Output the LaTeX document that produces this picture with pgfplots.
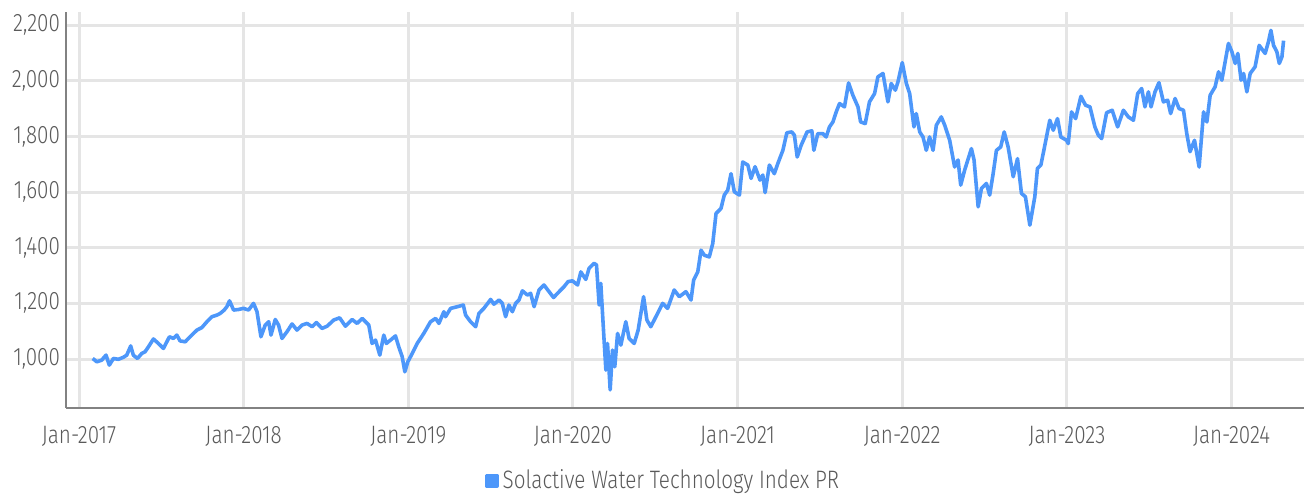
\documentclass[border=0pt]{standalone}
\usepackage{fontspec}
\setmainfont{Fira Sans Light}[FakeStretch=0.82]
\usepackage{pgfplots}
\pgfplotsset{compat=1.18}
\definecolor{lineblue}{RGB}{77,151,250}
\definecolor{txtgray}{RGB}{90,90,90}
\definecolor{gridgray}{RGB}{229,229,229}
\definecolor{axgray}{RGB}{130,130,130}
\begin{document}
\begin{tikzpicture}
\useasboundingbox (-33pt,-44pt) rectangle (619pt,204pt);
\begin{axis}[
  scale only axis, width=619pt, height=198pt,
  xmin=2016.921, xmax=2024.44, ymin=824, ymax=2247,
  axis x line*=bottom, axis y line*=left,
  axis line style={axgray, line width=1pt, -},
  xtick={2017,2018,2019,2020,2021,2022,2023,2024},
  xticklabels={Jan-2017,Jan-2018,Jan-2019,Jan-2020,Jan-2021,Jan-2022,Jan-2023,Jan-2024},
  ytick={1000,1200,1400,1600,1800,2000,2200},
  major tick length=0pt,
  grid=major, major grid style={gridgray, line width=1.5pt},
  tick label style={font=\fontsize{12.6}{14}\selectfont, text=txtgray},
  /pgf/number format/assume math mode=true,
  yticklabel style={/pgf/number format/1000 sep={,}, xshift=0.5pt},
  xticklabel style={yshift=-5.5pt},
  legend style={at={(0.483,-0.184)}, anchor=center, draw=none, fill=none,
    font=\fontsize{12.6}{14}\selectfont, text=txtgray, inner sep=0pt,
    /tikz/every even column/.append style={column sep=0pt}},
  legend cell align=left,
  legend image code/.code={\fill[lineblue] (0pt,-2.6pt) rectangle (5.2pt,2.6pt);},
  clip=false,
]
\addplot[lineblue, line width=1.8pt, line join=round] table {
x y
2017.083 1002
2017.108 990
2017.138 996
2017.164 1014
2017.184 978
2017.209 1002
2017.239 999
2017.269 1006
2017.290 1014
2017.314 1047
2017.330 1014
2017.355 1002
2017.381 1020
2017.401 1026
2017.422 1044
2017.452 1072
2017.482 1056
2017.513 1038
2017.549 1080
2017.574 1074
2017.594 1086
2017.614 1065
2017.645 1062
2017.675 1080
2017.716 1104
2017.746 1113
2017.777 1134
2017.807 1152
2017.838 1158
2017.858 1164
2017.882 1176
2017.898 1188
2017.914 1209
2017.939 1176
2017.969 1178
2017.999 1182
2018.030 1176
2018.060 1200
2018.081 1170
2018.105 1080
2018.131 1122
2018.152 1134
2018.166 1086
2018.192 1142
2018.212 1122
2018.233 1074
2018.263 1098
2018.294 1126
2018.324 1104
2018.355 1122
2018.385 1128
2018.416 1116
2018.442 1131
2018.476 1110
2018.507 1118
2018.547 1140
2018.583 1148
2018.618 1118
2018.659 1142
2018.689 1128
2018.720 1146
2018.760 1122
2018.780 1056
2018.801 1068
2018.827 1014
2018.851 1086
2018.867 1056
2018.892 1068
2018.922 1083
2018.942 1044
2018.963 1008
2018.979 954
2018.997 990
2019.024 1020
2019.054 1056
2019.094 1092
2019.135 1134
2019.166 1146
2019.186 1128
2019.216 1170
2019.226 1152
2019.257 1182
2019.298 1188
2019.334 1194
2019.348 1158
2019.378 1134
2019.409 1116
2019.429 1164
2019.459 1182
2019.500 1214
2019.520 1197
2019.551 1212
2019.571 1200
2019.591 1152
2019.611 1194
2019.632 1170
2019.652 1200
2019.672 1212
2019.693 1245
2019.723 1230
2019.743 1236
2019.764 1188
2019.794 1248
2019.824 1266
2019.855 1242
2019.882 1221
2019.916 1242
2019.946 1260
2019.970 1278
2019.997 1281
2020.028 1266
2020.048 1313
2020.078 1286
2020.098 1326
2020.128 1344
2020.143 1338
2020.159 1194
2020.169 1272
2020.189 1068
2020.200 960
2020.210 1056
2020.226 889
2020.240 1032
2020.254 972
2020.271 1092
2020.291 1050
2020.321 1134
2020.341 1074
2020.372 1056
2020.396 1104
2020.429 1224
2020.449 1140
2020.473 1116
2020.514 1164
2020.545 1200
2020.575 1182
2020.615 1248
2020.646 1224
2020.686 1242
2020.717 1212
2020.733 1284
2020.758 1313
2020.778 1391
2020.798 1373
2020.828 1367
2020.849 1415
2020.869 1523
2020.899 1541
2020.919 1589
2020.940 1607
2020.960 1666
2020.980 1601
2021.011 1589
2021.031 1708
2021.062 1697
2021.082 1649
2021.106 1691
2021.136 1643
2021.153 1661
2021.167 1598
2021.193 1697
2021.223 1666
2021.244 1702
2021.275 1750
2021.299 1813
2021.329 1816
2021.345 1804
2021.362 1726
2021.386 1768
2021.422 1816
2021.451 1820
2021.463 1750
2021.487 1810
2021.518 1810
2021.538 1798
2021.558 1834
2021.579 1852
2021.599 1888
2021.619 1918
2021.649 1906
2021.674 1992
2021.700 1948
2021.731 1906
2021.747 1852
2021.775 1846
2021.801 1924
2021.832 1954
2021.852 2014
2021.883 2026
2021.913 1924
2021.933 1990
2021.958 1966
2021.974 1996
2022.000 2065
2022.025 1990
2022.045 1954
2022.071 1834
2022.085 1882
2022.106 1816
2022.126 1798
2022.146 1750
2022.166 1798
2022.187 1750
2022.207 1840
2022.237 1870
2022.258 1840
2022.288 1786
2022.318 1690
2022.339 1715
2022.355 1625
2022.379 1679
2022.420 1756
2022.436 1715
2022.461 1547
2022.481 1613
2022.511 1631
2022.531 1589
2022.552 1666
2022.572 1750
2022.598 1762
2022.619 1816
2022.643 1762
2022.674 1655
2022.700 1720
2022.724 1595
2022.748 1583
2022.775 1481
2022.805 1583
2022.821 1685
2022.842 1697
2022.862 1756
2022.882 1816
2022.896 1858
2022.917 1822
2022.943 1864
2022.963 1798
2022.998 1786
2023.008 1774
2023.028 1888
2023.053 1864
2023.085 1944
2023.113 1912
2023.140 1906
2023.170 1834
2023.191 1804
2023.211 1792
2023.241 1885
2023.275 1894
2023.308 1834
2023.343 1894
2023.373 1870
2023.404 1858
2023.430 1954
2023.454 1972
2023.474 1906
2023.495 1960
2023.511 1906
2023.535 1960
2023.559 1993
2023.586 1924
2023.612 1930
2023.630 1882
2023.657 1936
2023.681 1900
2023.708 1894
2023.728 1810
2023.748 1745
2023.775 1786
2023.803 1690
2023.830 1888
2023.850 1852
2023.870 1948
2023.900 1978
2023.921 2032
2023.941 2002
2023.961 2068
2023.981 2134
2024.002 2104
2024.022 2062
2024.038 2098
2024.058 2002
2024.073 2026
2024.093 1960
2024.113 2026
2024.143 2050
2024.168 2127
2024.204 2098
2024.224 2140
2024.239 2181
2024.255 2127
2024.275 2104
2024.290 2062
2024.306 2086
2024.316 2144
};
\addlegendentry{Solactive Water Technology Index PR}
\end{axis}
\end{tikzpicture}
\end{document}
